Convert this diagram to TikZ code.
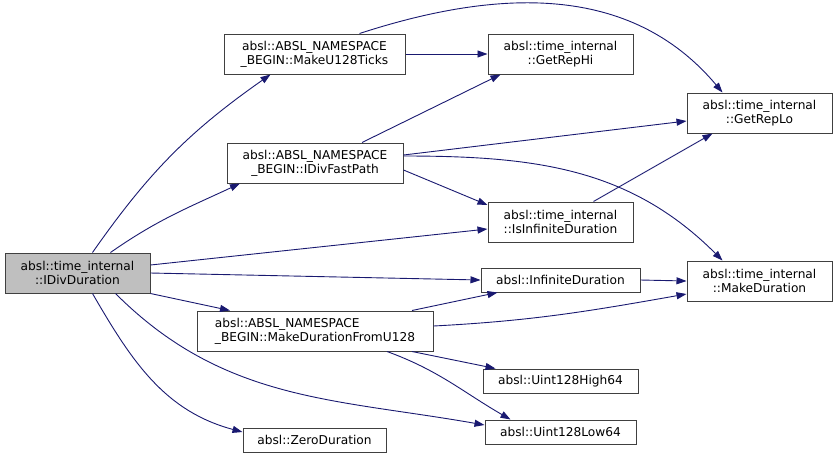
\documentclass[tikz,border=0pt]{standalone}
\usepackage{fontspec}
\setmainfont{DejaVu Sans}
\usetikzlibrary{arrows.meta}
\definecolor{edgeblue}{HTML}{191970}
\definecolor{boxline}{HTML}{404040}
\tikzset{
  fn/.style={draw=boxline, fill=white, line width=1pt, align=center, inner sep=0pt,
    font=\fontsize{12.2}{14}\selectfont},
  call/.style={draw=edgeblue, line width=0.9pt, -{Triangle[length=10pt,width=7pt,fill=edgeblue]}},
}

\begin{document}
\begin{tikzpicture}[x=1pt,y=-1pt]
  \useasboundingbox (0,0) rectangle (837,459);
  \node[fn, fill=black!25, minimum width=145pt, minimum height=40pt] (idiv) at (77.5,273)
    {absl::time\_internal\\::IDivDuration};
  \foreach \nm/\cx/\cy/\w/\h/\txt in {
      tick/314.5/54/181/40/{absl::ABSL\_NAMESPACE\\\_BEGIN::MakeU128Ticks},
      hi/560.5/54/145/40/{absl::time\_internal\\::GetRepHi},
      lo/759.5/113/145/40/{absl::time\_internal\\::GetRepLo},
      fast/315/163/176/40/{absl::ABSL\_NAMESPACE\\\_BEGIN::IDivFastPath},
      isinf/560.5/222/145/40/{absl::time\_internal\\::IsInfiniteDuration},
      inf/560.5/280/159/24/{absl::InfiniteDuration},
      mkdur/759.5/281/145/40/{absl::time\_internal\\::MakeDuration},
      high/560.5/381/155/24/{absl::Uint128High64},
      low/560.5/432/151/24/{absl::Uint128Low64},
      zero/314.5/440/143/24/{absl::ZeroDuration}} {
    \node[fn, minimum width=\w pt, minimum height=\h pt] (\nm) at (\cx,\cy) {\txt};
  }
  \node[fn, align=left, minimum width=236pt, minimum height=40pt] (fromu) at (315,331)
    {absl::ABSL\_NAMESPACE\\\_BEGIN::MakeDurationFromU128};

  \draw[call] ([xshift=15pt]idiv.north) to[out=55,in=215] ([xshift=-44pt]tick.south);
  \draw[call] ([xshift=33pt]idiv.north) to[out=35,in=205] ([xshift=-75pt]fast.south);
  \draw[call] ([yshift=8pt]idiv.east) -- ([yshift=-7pt]isinf.west);
  \draw[call] (idiv.east) -- (inf.west);
  \draw[call] (idiv.south east) -- ([xshift=-85pt]fromu.north);
  \draw[call] ([xshift=38pt]idiv.south) to[out=-45,in=170] ([yshift=7pt]low.west);
  \draw[call] ([xshift=15pt]idiv.south) to[out=-60,in=165] ([yshift=8pt]zero.west);
  \draw[call] (tick.east) -- (hi.west);
  \draw[call] ([xshift=45pt]tick.north) to[out=18,in=130] ([xshift=-37pt]lo.north);
  \draw[call] ([xshift=47pt]fast.north) -- ([xshift=-60pt]hi.south);
  \draw[call] ([yshift=8pt]fast.east) -- ([yshift=-8pt]lo.west);
  \draw[call] ([yshift=-7pt]fast.east) -- ([yshift=17pt]isinf.west);
  \draw[call] ([yshift=7pt]fast.east) to[out=0,in=135] ([xshift=-37pt]mkdur.north);
  \draw[call] ([xshift=33pt]isinf.north) -- ([xshift=-47pt]lo.south);
  \draw[call] (inf.east) -- (mkdur.west);
  \draw[call] ([xshift=97pt]fromu.north) -- ([xshift=-63pt]inf.south);
  \draw[call] ([yshift=5pt]fromu.east) to[out=3,in=190] ([yshift=-13pt]mkdur.west);
  \draw[call] ([xshift=97pt]fromu.south) -- ([xshift=-65pt]high.north);
  \draw[call] ([xshift=72pt]fromu.south) to[out=-20,in=150] ([xshift=-50pt]low.north);
\end{tikzpicture}
\end{document}
